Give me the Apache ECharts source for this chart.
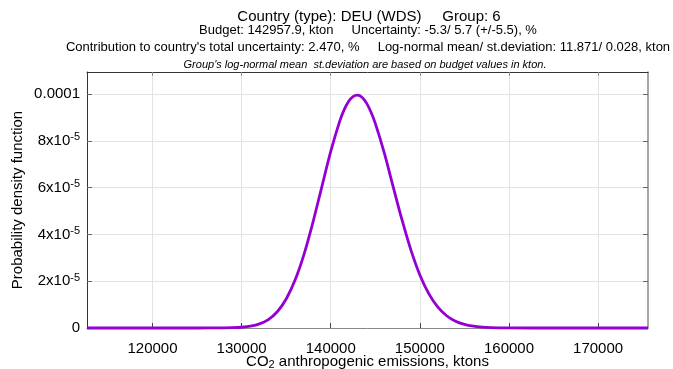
<!DOCTYPE html>
<html>
<head>
<meta charset="utf-8">
<script src="https://cdn.jsdelivr.net/npm/echarts@6/dist/echarts.min.js"></script>
<style>html,body{margin:0;padding:0;background:#fff;}#c{width:673px;height:369px;}</style>
</head>
<body>
<div id="c"></div>
<script>
// Emissions (kton) sample points
var xValues = [112650, 120000, 125000, 128000, 129000, 130000, 131000, 132000, 133000, 134000, 135000, 136000, 137000, 138000, 139000, 140000, 141000, 141500, 142000, 142500, 143000, 143500, 144000, 144500, 145000, 146000, 147000, 148000, 149000, 150000, 151000, 152000, 153000, 154000, 155000, 156000, 157000, 158000, 159000, 160000, 165000, 170000, 175600];
// Probability density
var pdfValues = [0, 0, 0.000000001, 0.0000000417, 0.00000012, 0.000000317, 0.000000773, 0.00000174, 0.00000361, 0.00000694, 0.0000124, 0.0000205, 0.0000315, 0.0000452, 0.0000604, 0.0000755, 0.0000884, 0.0000933, 0.0000969, 0.0000990, 0.0000996, 0.0000987, 0.0000963, 0.0000925, 0.0000875, 0.0000750, 0.0000605, 0.0000462, 0.0000333, 0.0000227, 0.0000147, 0.0000090, 0.00000524, 0.0000029, 0.00000153, 0.000000765, 0.000000366, 0.000000167, 0.0000000727, 0.0000000303, 0, 0, 0];
var xTicks = [120000, 130000, 140000, 150000, 160000, 170000];
var yTicks = [0, 0.00002, 0.00004, 0.00006, 0.00008, 0.0001];
var yTickLabels = ['0', '2x10{sup|-5}', '4x10{sup|-5}', '6x10{sup|-5}', '8x10{sup|-5}', '0.0001'];
var titleLines = [
  'Country (type): DEU (WDS)     Group: 6',
  'Budget: 142957.9, kton     Uncertainty: -5.3/ 5.7 (+/-5.5), %',
  "Contribution to country's total uncertainty: 2.470, %     Log-normal mean/ st.deviation: 11.871/ 0.028, kton",
  "Group's log-normal mean  st.deviation are based on budget values in kton."
];
var xName = 'CO{sub|2} anthropogenic emissions, ktons';
var yName = 'Probability density function';

var FONT = 'Liberation Sans, Arial, sans-serif';
var chart = echarts.init(document.getElementById('c'));
var pts = xValues.map(function (x, i) { return [x, pdfValues[i]]; });

function yFmt(v) {
  for (var i = 0; i < yTicks.length; i++) {
    if (Math.abs(v - yTicks[i]) < 1e-9) return yTickLabels[i];
  }
  return '';
}

var option = {
  animation: false,
  backgroundColor: '#fff',
  title: [
    { text: titleLines[0], left: 364, top: 4, textAlign: 'center', textStyle: { fontFamily: FONT, fontSize: 15, fontWeight: 'normal', color: '#000' } },
    { text: titleLines[1], left: 363, top: 19, textAlign: 'center', textStyle: { fontFamily: FONT, fontSize: 13, fontWeight: 'normal', color: '#000' } },
    { text: titleLines[2], left: 363, top: 36, textAlign: 'center', textStyle: { fontFamily: FONT, fontSize: 13, fontWeight: 'normal', color: '#000' } },
    { text: titleLines[3], left: 360, top: 54, textAlign: 'center', textStyle: { fontFamily: FONT, fontSize: 11, fontStyle: 'italic', fontWeight: 'normal', color: '#000' } }
  ],
  grid: { left: 87, right: 25, top: 72, bottom: 41, containLabel: false, outerBoundsMode: 'none' },
  xAxis: [{
    type: 'value', min: 112650, max: 175600, position: 'bottom',
    axisLine: { show: true, onZero: false, lineStyle: { color: '#888', width: 1 } },
    axisTick: { show: true, inside: true, length: 5, customValues: xTicks, lineStyle: { color: '#444' } },
    axisLabel: { customValues: xTicks, margin: 13, fontFamily: FONT, fontSize: 15, color: '#000', formatter: function (v) { return String(v); } },
    splitLine: { show: true, lineStyle: { color: '#e3e3e3', width: 1 } },
    name: xName, nameLocation: 'middle', nameGap: 25, nameMoveOverlap: false,
    nameTextStyle: { fontFamily: FONT, fontSize: 15, color: '#000', rich: { sub: { fontFamily: FONT, fontSize: 11, color: '#000', verticalAlign: 'bottom', padding: [6, 0, 0, 0] } } }
  }, {
    type: 'value', min: 112650, max: 175600, position: 'top',
    axisLine: { show: true, onZero: false, lineStyle: { color: '#333', width: 1 } },
    axisTick: { show: true, inside: true, length: 4, customValues: xTicks, lineStyle: { color: '#888' } },
    axisLabel: { show: false },
    splitLine: { show: false }
  }],
  yAxis: [{
    type: 'value', min: 0, max: 0.0001095, position: 'left',
    axisLine: { show: true, onZero: false, lineStyle: { color: '#333', width: 1 } },
    axisTick: { show: true, inside: true, length: 5, customValues: yTicks, lineStyle: { color: '#666' } },
    axisLabel: {
      customValues: yTicks, margin: 7, fontFamily: FONT, fontSize: 15, color: '#000', formatter: yFmt,
      rich: { sup: { fontFamily: FONT, fontSize: 11, color: '#000', verticalAlign: 'top', padding: [0, 0, 7, 0] } }
    },
    splitLine: { show: true, lineStyle: { color: '#e3e3e3', width: 1 } },
    name: yName, nameLocation: 'middle', nameGap: 62, nameRotate: 90, nameMoveOverlap: false,
    nameTextStyle: { fontFamily: FONT, fontSize: 15, color: '#000' }
  }, {
    type: 'value', min: 0, max: 0.0001095, position: 'right',
    axisLine: { show: true, onZero: false, lineStyle: { color: '#888', width: 1.5 } },
    axisTick: { show: true, inside: true, length: 5, customValues: yTicks, lineStyle: { color: '#666' } },
    axisLabel: { show: false },
    splitLine: { show: false }
  }],
  series: [{
    type: 'line', xAxisIndex: 0, yAxisIndex: 0, data: pts,
    showSymbol: false, smooth: 0.3, clip: false,
    lineStyle: { color: '#9400d3', width: 2.8 }
  }]
};
chart.setOption(option);
</script>
</body>
</html>
